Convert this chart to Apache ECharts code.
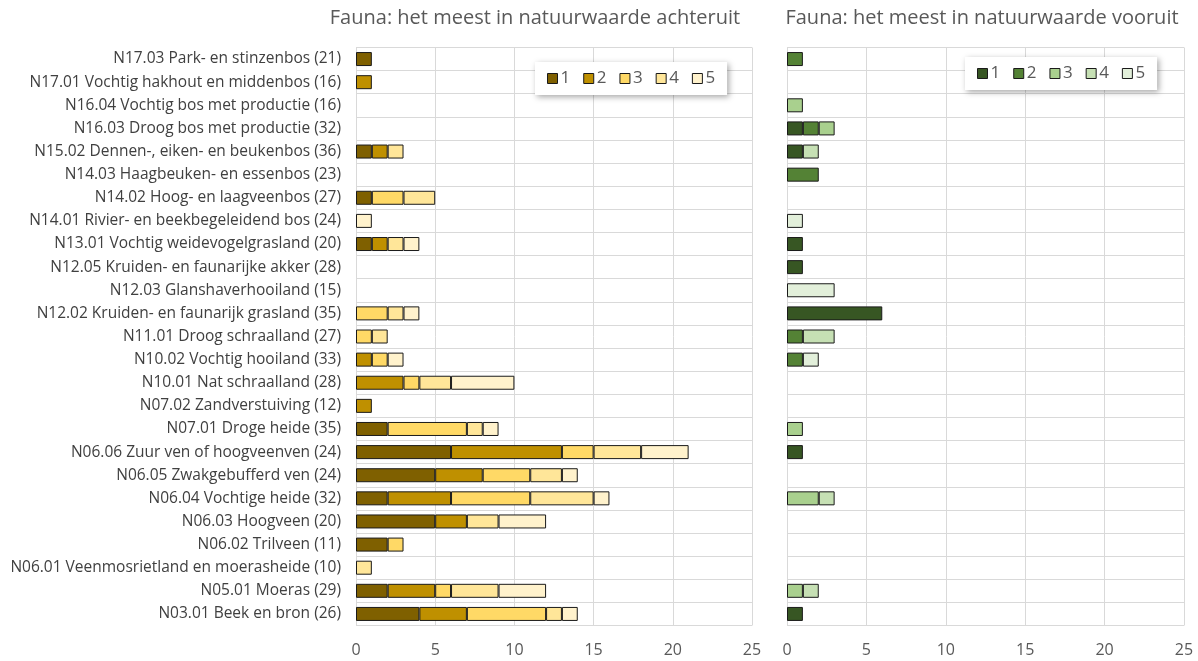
<!DOCTYPE html>
<html>
<head>
<meta charset="utf-8">
<script src="https://cdn.jsdelivr.net/npm/echarts@6/dist/echarts.min.js"></script>
<style>
  html, body { margin: 0; padding: 0; background: #fff; }
  #chart { width: 1198px; height: 661px; }
</style>
</head>
<body>
<div id="chart"></div>
<script>
// Habitat types (top to bottom) with number of assessed sites
const habitats = [
  'N17.03 Park- en stinzenbos (21)',
  'N17.01 Vochtig hakhout en middenbos (16)',
  'N16.04 Vochtig bos met productie (16)',
  'N16.03 Droog bos met productie (32)',
  'N15.02 Dennen-, eiken- en beukenbos (36)',
  'N14.03 Haagbeuken- en essenbos (23)',
  'N14.02 Hoog- en laagveenbos (27)',
  'N14.01 Rivier- en beekbegeleidend bos (24)',
  'N13.01 Vochtig weidevogelgrasland (20)',
  'N12.05 Kruiden- en faunarijke akker (28)',
  'N12.03 Glanshaverhooiland (15)',
  'N12.02 Kruiden- en faunarijk grasland (35)',
  'N11.01 Droog schraalland (27)',
  'N10.02 Vochtig hooiland (33)',
  'N10.01 Nat schraalland (28)',
  'N07.02 Zandverstuiving (12)',
  'N07.01 Droge heide (35)',
  'N06.06 Zuur ven of hoogveenven (24)',
  'N06.05 Zwakgebufferd ven (24)',
  'N06.04 Vochtige heide (32)',
  'N06.03 Hoogveen (20)',
  'N06.02 Trilveen (11)',
  'N06.01 Veenmosrietland en moerasheide (10)',
  'N05.01 Moeras (29)',
  'N03.01 Beek en bron (26)'
];

// Decline (achteruit), counts per class 1..5
const declineClass1 = [1,0,0,0,1,0,1,0,1,0,0,0,0,0,0,0,2,6,5,2,5,2,0,2,4];
const declineClass2 = [0,1,0,0,1,0,0,0,1,0,0,0,0,1,3,1,0,7,3,4,2,0,0,3,3];
const declineClass3 = [0,0,0,0,0,0,2,0,0,0,0,2,1,1,1,0,5,2,3,5,0,1,0,1,5];
const declineClass4 = [0,0,0,0,1,0,2,0,1,0,0,1,1,0,2,0,1,3,2,4,2,0,1,3,1];
const declineClass5 = [0,0,0,0,0,0,0,1,1,0,0,1,0,1,4,0,1,3,1,1,3,0,0,3,1];

// Improvement (vooruit), counts per class 1..5
const gainClass1 = [0,0,0,1,1,0,0,0,1,1,0,6,0,0,0,0,0,1,0,0,0,0,0,0,1];
const gainClass2 = [1,0,0,1,0,2,0,0,0,0,0,0,1,1,0,0,0,0,0,0,0,0,0,0,0];
const gainClass3 = [0,0,1,1,0,0,0,0,0,0,0,0,0,0,0,0,1,0,0,2,0,0,0,1,0];
const gainClass4 = [0,0,0,0,1,0,0,0,0,0,0,0,2,0,0,0,0,0,0,1,0,0,0,1,0];
const gainClass5 = [0,0,0,0,0,0,0,1,0,0,3,0,0,1,0,0,0,0,0,0,0,0,0,0,0];

const classNames = ['1', '2', '3', '4', '5'];
const xTicks = [0, 5, 10, 15, 20, 25];

const browns = ['#7F6000', '#BF9000', '#FFD966', '#FFE699', '#FFF2CC'];
const greens = ['#375623', '#548235', '#A9D08E', '#C6E0B4', '#E2EFDA'];

const FONT = '"Open Sans", "Liberation Sans", sans-serif';
const GRID_LINE = '#D9D9D9';
const TEXT = '#595959';

const declineSets = [declineClass1, declineClass2, declineClass3, declineClass4, declineClass5];
const gainSets = [gainClass1, gainClass2, gainClass3, gainClass4, gainClass5];

function makeSeries(sets, colors, prefix, axisIndex, stack) {
  return sets.map((values, i) => ({
    name: prefix + classNames[i],
    type: 'bar',
    stack: stack,
    xAxisIndex: axisIndex,
    yAxisIndex: axisIndex,
    barWidth: 14,
    data: values.map(v => (v ? v : null)),
    itemStyle: { color: colors[i], borderColor: '#1a1a1a', borderWidth: 1 },
    emphasis: { disabled: true }
  }));
}

function valueAxis(gridIndex) {
  return {
    type: 'value',
    gridIndex: gridIndex,
    min: xTicks[0],
    max: xTicks[xTicks.length - 1],
    interval: xTicks[1] - xTicks[0],
    axisLine: { show: false },
    axisTick: { show: false },
    axisLabel: { color: TEXT, fontFamily: FONT, fontSize: 16, margin: 17 },
    splitLine: { show: true, lineStyle: { color: GRID_LINE, width: 1 } }
  };
}

function categoryAxis(gridIndex, showLabels) {
  return {
    type: 'category',
    gridIndex: gridIndex,
    inverse: true,
    data: habitats,
    axisLine: { show: true, lineStyle: { color: GRID_LINE } },
    axisTick: { show: false },
    axisLabel: {
      show: showLabels,
      color: '#404040',
      fontFamily: FONT,
      fontSize: 15.5,
      margin: 15,
      interval: 0
    },
    splitLine: { show: true, interval: 0, lineStyle: { color: GRID_LINE, width: 1 } }
  };
}

function legendBox(left, top, prefix) {
  return {
    left: left,
    top: top,
    orient: 'horizontal',
    data: classNames.map(n => prefix + n),
    formatter: name => name.slice(prefix.length),
    icon: 'rect',
    itemWidth: 10,
    itemHeight: 10,
    itemGap: 13,
    padding: [8, 12, 8, 12],
    backgroundColor: '#ffffff',
    shadowBlur: 6,
    shadowColor: 'rgba(0,0,0,0.35)',
    shadowOffsetX: 2,
    shadowOffsetY: 2,
    itemStyle: { borderColor: '#1a1a1a', borderWidth: 1 },
    textStyle: { color: TEXT, fontFamily: FONT, fontSize: 17, padding: [0, 0, 0, -2] },
    selectedMode: false
  };
}

const chart = echarts.init(document.getElementById('chart'), null, { renderer: 'canvas' });

chart.setOption({
  animation: false,
  backgroundColor: '#ffffff',
  title: [
    {
      text: 'Fauna: het meest in natuurwaarde achteruit',
      left: 530, top: 3, textAlign: 'center',
      textStyle: { color: TEXT, fontFamily: FONT, fontSize: 20, fontWeight: 'normal' }
    },
    {
      text: 'Fauna: het meest in natuurwaarde vooruit',
      left: 977, top: 3, textAlign: 'center',
      textStyle: { color: TEXT, fontFamily: FONT, fontSize: 20, fontWeight: 'normal' }
    }
  ],
  legend: [
    legendBox(535, 62, 'a'),
    legendBox(965, 57, 'v')
  ],
  grid: [
    { left: 356, top: 47.5, width: 396, height: 578 },
    { left: 787, top: 47.5, width: 397, height: 578 }
  ],
  xAxis: [valueAxis(0), valueAxis(1)],
  yAxis: [categoryAxis(0, true), categoryAxis(1, false)],
  series: [
    ...makeSeries(declineSets, browns, 'a', 0, 'achteruit'),
    ...makeSeries(gainSets, greens, 'v', 1, 'vooruit')
  ]
});
</script>
</body>
</html>
